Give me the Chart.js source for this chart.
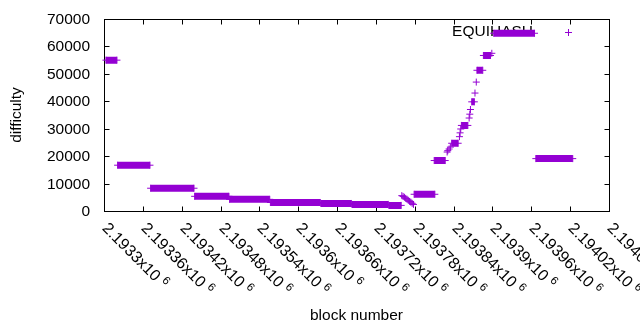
<!DOCTYPE html>
<html><head><meta charset="utf-8">
<script src="https://cdn.jsdelivr.net/npm/chart.js@4.4.1/dist/chart.umd.min.js"></script>
<style>html,body{margin:0;padding:0;background:#fff}#wrap{width:640px;height:330px;position:relative}</style>
</head><body><div id="wrap"><canvas id="c" width="640" height="330"></canvas></div>
<script>
// ---- data ----
const seriesName = 'EQUIHASH';
const xTitle = 'block number';
const yTitle = 'difficulty';
const xTickLabels = ['2.1933','2.19336','2.19342','2.19348','2.19354','2.1936','2.19366','2.19372','2.19378','2.19384','2.1939','2.19396','2.19402','2.19408'];
const xExponent = '6';
const yTicks = [0,10000,20000,30000,40000,50000,60000,70000];
// runs of consecutive blocks that share one difficulty
const runStart = [2193303,2193321,2193372,2193440,2193494,2193557,2193635,2193683,2193740,2193779,2193810,2193837,2193852,2193868,2193876,2193886,2193902,2193967];
const runEnd   = [2193320,2193371,2193439,2193493,2193556,2193634,2193682,2193739,2193759,2193811,2193827,2193847,2193862,2193872,2193885,2193897,2193965,2194024];
const runValue = [55000,16700,8300,5350,4250,3100,2750,2400,2050,6100,18400,24700,31200,39800,51300,56700,64800,19100];
// single blocks
const pointBlock = [2193760,2193762,2193764,2193766,2193768,2193770,2193772,2193774,2193776,2193778,2193830,2193831,2193833,2193835,2193849,2193850,2193851,2193864,2193865,2193866,2193873,2193875,2193899];
const pointValue = [5600,5300,5000,4600,4300,3900,3500,3200,2800,2400,21500,22000,22600,23300,27100,28500,29900,33900,35300,37000,43000,47000,57500];

const COLOR = '#9400d3';
const FONT = '15.5px "Liberation Sans", Arial, sans-serif';
const TICKFONT = '16px "Liberation Sans", Arial, sans-serif';
const SUPFONT = '11.5px "Liberation Sans", Arial, sans-serif';

const runData = [];
runStart.forEach((s, i) => {
  runData.push({x: s, y: runValue[i]}, {x: runEnd[i], y: runValue[i]}, {x: runEnd[i], y: null});
});
const pointData = pointBlock.map((b, i) => ({x: b, y: pointValue[i]}));

const frame = {
  id: 'frame',
  beforeDatasetsDraw(chart) {
    const {ctx, chartArea: a, scales: {x, y}} = chart;
    ctx.save();
    ctx.fillStyle = '#000';
    ctx.strokeStyle = '#000';
    ctx.lineWidth = 1;
    ctx.font = FONT;
    // key
    ctx.textAlign = 'right'; ctx.textBaseline = 'middle';
    ctx.fillText(seriesName, a.right - 76, a.top + 13);
    const sx = Math.round(a.right - 41) + 0.5, sy = Math.round(a.top + 13) + 0.5;
    ctx.strokeStyle = COLOR;
    ctx.beginPath();
    ctx.moveTo(sx - 3.5, sy); ctx.lineTo(sx + 3.5, sy);
    ctx.moveTo(sx, sy - 3.5); ctx.lineTo(sx, sy + 3.5);
    ctx.stroke();
    ctx.strokeStyle = '#000';
    // border
    const L = Math.round(a.left) + 0.5, R = Math.round(a.right) + 0.5, T = Math.round(a.top) + 0.5, B = Math.round(a.bottom) + 0.5;
    ctx.strokeRect(L, T, R - L, B - T);
    // y ticks + labels
    ctx.textAlign = 'right'; ctx.textBaseline = 'middle';
    yTicks.forEach(v => {
      const py = Math.round(y.getPixelForValue(v)) + 0.5;
      ctx.beginPath();
      ctx.moveTo(L, py); ctx.lineTo(L + 5, py);
      ctx.moveTo(R, py); ctx.lineTo(R - 5, py);
      ctx.stroke();
      ctx.fillText(String(v), a.left - 14, py);
    });
    // x ticks + labels
    xTickLabels.forEach(lbl => {
      const v = Math.round(parseFloat(lbl) * 1e6);
      const px = Math.round(x.getPixelForValue(v)) + 0.5;
      ctx.beginPath();
      ctx.moveTo(px, B); ctx.lineTo(px, B - 5);
      ctx.moveTo(px, T); ctx.lineTo(px, T + 5);
      ctx.stroke();
      ctx.save();
      ctx.translate(px, a.bottom + 15);
      ctx.rotate(Math.PI / 4);
      ctx.textAlign = 'left'; ctx.textBaseline = 'middle';
      ctx.font = TICKFONT;
      const main = lbl + 'x10';
      ctx.fillText(main, 0, 0);
      const w = ctx.measureText(main).width;
      ctx.font = SUPFONT;
      ctx.fillText(xExponent, w + 4.5, -4.5);
      ctx.restore();
    });
    // axis titles
    ctx.font = FONT;
    ctx.textAlign = 'center'; ctx.textBaseline = 'middle';
    ctx.fillText(xTitle, (a.left + a.right) / 2, 316);
    ctx.save();
    ctx.translate(17, (a.top + a.bottom) / 2);
    ctx.rotate(-Math.PI / 2);
    ctx.fillText(yTitle, 0, 0);
    ctx.restore();
    ctx.restore();
  }
};

new Chart(document.getElementById('c'), {
  type: 'scatter',
  data: {datasets: [
    {label: seriesName, data: runData, showLine: true, spanGaps: false, borderColor: COLOR, backgroundColor: COLOR,
     borderWidth: 7, borderCapStyle: 'butt', pointStyle: 'cross', pointRadius: 3.5, pointHoverRadius: 3.5,
     pointBorderWidth: 1, pointBorderColor: COLOR, clip: false, tension: 0},
    {label: seriesName, data: pointData, showLine: false, pointStyle: 'cross', pointRadius: 3.5, pointHoverRadius: 3.5,
     pointBorderWidth: 1, borderColor: COLOR, backgroundColor: COLOR, clip: false}
  ]},
  options: {
    responsive: false, animation: false, devicePixelRatio: 1,
    layout: {padding: {left: 104, right: 31, top: 19, bottom: 119}},
    plugins: {legend: {display: false}, tooltip: {enabled: false}},
    scales: {
      x: {type: 'linear', display: false, min: 2193300, max: 2194080},
      y: {type: 'linear', display: false, min: 0, max: 70000}
    }
  },
  plugins: [frame]
});
</script>
</body></html>
